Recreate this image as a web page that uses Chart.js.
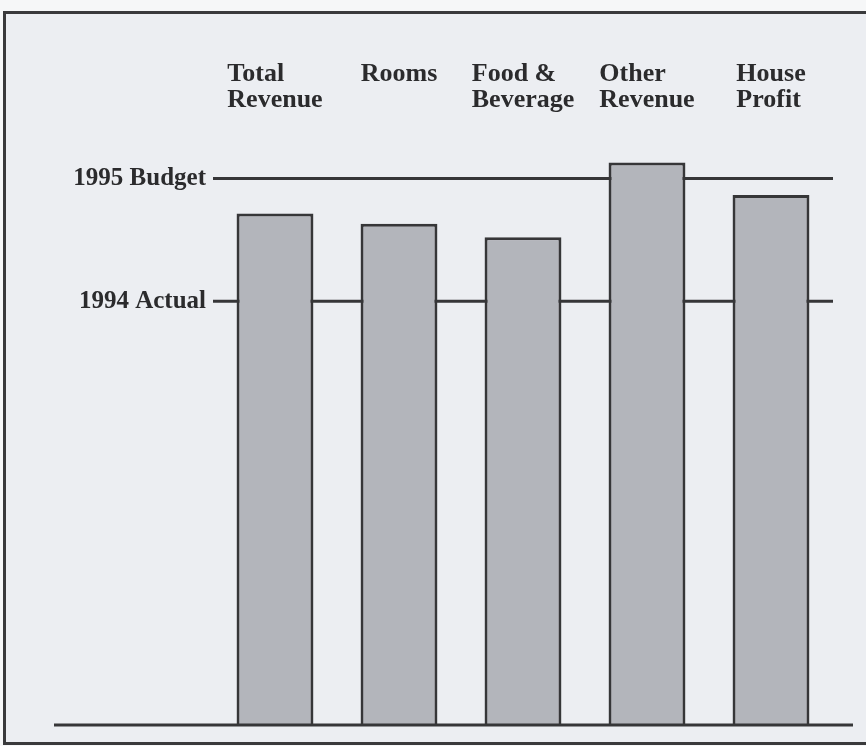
<!DOCTYPE html>
<html>
<head>
<meta charset="utf-8">
<script src="https://cdn.jsdelivr.net/npm/chart.js@4/dist/chart.umd.min.js"></script>
<style>
  html, body { margin: 0; padding: 0; background: #f6f7f8; width: 866px; height: 746px; overflow: hidden; }
  #frame { position: absolute; left: 3px; top: 11px; width: 900px; height: 734px; box-sizing: border-box;
           border: 3px solid #3a3a3c; background: #eceef2; }
  #c { position: absolute; left: 0; top: 0; }
</style>
</head>
<body>
<div id="frame"></div>
<canvas id="c" width="866" height="746"></canvas>
<script>
// Categories (multi-line labels)
const categories = [
  ['Total', 'Revenue'],
  ['Rooms'],
  ['Food &', 'Beverage'],
  ['Other', 'Revenue'],
  ['House', 'Profit']
];
// 1995 results indexed to 1994 Actual = 100
const values1995 = [120.7, 118.3, 115.1, 132.8, 125.1];
// Reference levels
const actual1994 = 100;
const budget1995 = 129;
const referenceLabels = ['1994 Actual', '1995 Budget'];

const FONT = '"Liberation Serif", "Times New Roman", serif';
const TEXT = '#2b2b2d';
const INK = '#363638';

const topLabelsPlugin = {
  id: 'topLabels',
  afterDraw(chart) {
    const ctx = chart.ctx;
    const xs = chart.scales.x;
    ctx.save();
    ctx.font = 'bold 26px ' + FONT;
    ctx.fillStyle = TEXT;
    ctx.textBaseline = 'alphabetic';
    ctx.textAlign = 'left';
    categories.forEach((lines, i) => {
      const cx = xs.getPixelForValue(i);
      const w = Math.max(...lines.map(l => ctx.measureText(l).width));
      const sx = cx - w / 2;
      lines.forEach((l, j) => ctx.fillText(l, sx, 81 + j * 26));
    });
    ctx.restore();
  }
};

const baselinePlugin = {
  id: 'baseline',
  afterDatasetsDraw(chart) {
    const ctx = chart.ctx;
    const y = chart.scales.y.getPixelForValue(0) + 1;
    const a = chart.chartArea;
    ctx.save();
    ctx.strokeStyle = INK;
    ctx.lineWidth = 3;
    ctx.beginPath();
    ctx.moveTo(a.left - 159, y);
    ctx.lineTo(a.right + 20, y);
    ctx.stroke();
    ctx.restore();
  }
};

const refData = v => [{ x: 0, y: v }, { x: 1, y: v }];

new Chart(document.getElementById('c'), {
  type: 'bar',
  data: {
    labels: categories,
    datasets: [
      {
        label: '1995',
        data: values1995,
        backgroundColor: '#b3b5bb',
        borderColor: INK,
        borderWidth: 3,
        borderSkipped: 'bottom',
        barPercentage: 0.62,
        categoryPercentage: 1.0,
        grouped: false,
        xAxisID: 'x',
        yAxisID: 'y',
        order: 0
      },
      {
        type: 'line',
        label: referenceLabels[1],
        data: refData(budget1995),
        borderColor: INK,
        borderWidth: 3,
        pointRadius: 0,
        xAxisID: 'xr',
        yAxisID: 'y',
        order: 1
      },
      {
        type: 'line',
        label: referenceLabels[0],
        data: refData(actual1994),
        borderColor: INK,
        borderWidth: 3,
        pointRadius: 0,
        xAxisID: 'xr',
        yAxisID: 'y',
        order: 1
      }
    ]
  },
  options: {
    responsive: false,
    animation: false,
    layout: { padding: { left: 63, right: 33, top: 132, bottom: 18 } },
    plugins: { legend: { display: false }, tooltip: { enabled: false } },
    scales: {
      x: { type: 'category', display: false, offset: true, grid: { display: false } },
      xr: { type: 'linear', display: false, offset: false, min: 0, max: 1, grid: { offset: false } },
      y: {
        type: 'linear',
        min: 0,
        max: 140,
        grid: { display: false, drawTicks: false },
        border: { display: false },
        afterBuildTicks(scale) {
          scale.ticks = [{ value: actual1994 }, { value: budget1995 }];
        },
        afterFit(scale) { scale.width = 150; },
        ticks: {
          padding: 7,
          color: TEXT,
          font: { family: FONT, size: 25, weight: 'bold' },
          callback(v) {
            if (v === actual1994) return referenceLabels[0];
            if (v === budget1995) return referenceLabels[1];
            return '';
          }
        }
      }
    }
  },
  plugins: [topLabelsPlugin, baselinePlugin]
});
</script>
</body>
</html>
